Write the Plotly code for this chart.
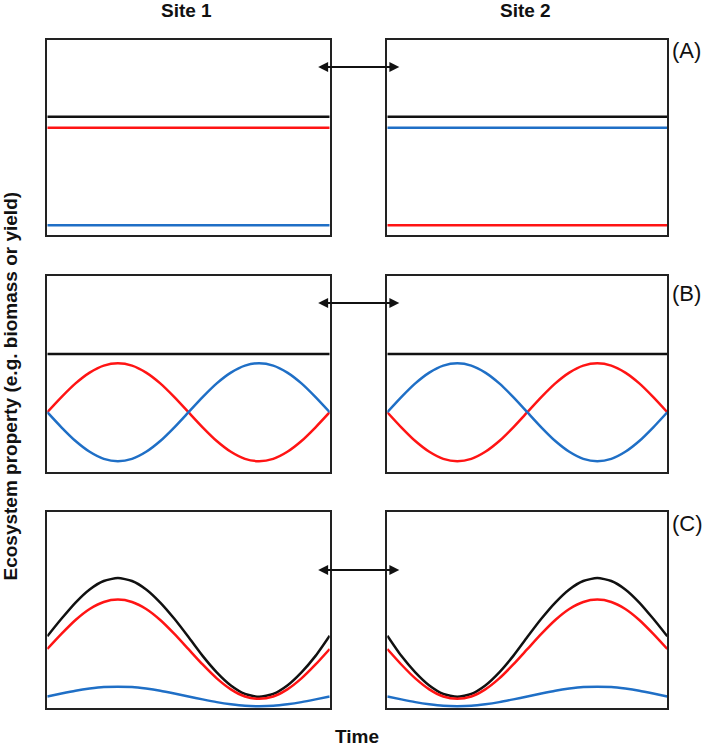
import plotly.graph_objects as go

# ---------------- data ----------------
time_pts = [0.0, 0.05, 0.10, 0.15, 0.20, 0.25, 0.30, 0.35, 0.40, 0.45, 0.50,
            0.55, 0.60, 0.65, 0.70, 0.75, 0.80, 0.85, 0.90, 0.95, 1.0]

# Row A: constant levels
a_site1_black = 0.604
a_site1_red = 0.548
a_site1_blue = 0.047
a_site2_black = 0.604
a_site2_red = 0.047
a_site2_blue = 0.548

# Row B
b_black = 0.602
b_site1_red = [0.305, 0.382, 0.452, 0.507, 0.543, 0.555, 0.543, 0.507, 0.452, 0.382, 0.305,
               0.228, 0.158, 0.103, 0.067, 0.055, 0.067, 0.103, 0.158, 0.228, 0.305]
b_site1_blue = [0.305, 0.228, 0.158, 0.103, 0.067, 0.055, 0.067, 0.103, 0.158, 0.228, 0.305,
                0.382, 0.452, 0.507, 0.543, 0.555, 0.543, 0.507, 0.452, 0.382, 0.305]
b_site2_red = b_site1_blue
b_site2_blue = b_site1_red

# Row C
c_site1_black = [0.366, 0.455, 0.538, 0.605, 0.648, 0.663, 0.648, 0.605, 0.538, 0.455, 0.362,
                 0.266, 0.182, 0.115, 0.072, 0.057, 0.072, 0.115, 0.182, 0.266, 0.369]
c_site1_red = [0.301, 0.378, 0.449, 0.505, 0.541, 0.553, 0.541, 0.505, 0.449, 0.378, 0.300,
               0.222, 0.151, 0.095, 0.059, 0.047, 0.059, 0.095, 0.151, 0.222, 0.301]
c_site1_blue = [0.059, 0.074, 0.088, 0.099, 0.107, 0.109, 0.107, 0.099, 0.088, 0.074, 0.059,
                0.044, 0.030, 0.019, 0.011, 0.009, 0.011, 0.019, 0.030, 0.044, 0.059]
c_site2_black = c_site1_black[::-1]
c_site2_red = c_site1_red[::-1]
c_site2_blue = c_site1_blue[::-1]

site_titles = ["Site 1", "Site 2"]
row_labels = ["(A)", "(B)", "(C)"]
x_title = "Time"
y_title = "Ecosystem property (e.g. biomass or yield)"

# ---------------- styling ----------------
W, H = 709, 748
BLACK = "#111111"
RED = "#ff1414"
BLUE = "#1f6fc6"
LW = 2.5
FONT = "Liberation Sans, Arial, Helvetica, sans-serif"

def px_x(p):
    return p / W

def px_y(p):
    return 1 - p / H

col_dom = [[px_x(47.3), px_x(329.7)], [px_x(387.3), px_x(667.3)]]
row_dom = [[px_y(234.5), px_y(39.5)], [px_y(472), px_y(276)], [px_y(708), px_y(512)]]

fig = go.Figure()

series = [
    # row A
    [[([0, 1], [a_site1_black] * 2, BLACK), ([0, 1], [a_site1_red] * 2, RED), ([0, 1], [a_site1_blue] * 2, BLUE)],
     [([0, 1], [a_site2_black] * 2, BLACK), ([0, 1], [a_site2_blue] * 2, BLUE), ([0, 1], [a_site2_red] * 2, RED)]],
    # row B
    [[([0, 1], [b_black] * 2, BLACK), (time_pts, b_site1_red, RED), (time_pts, b_site1_blue, BLUE)],
     [([0, 1], [b_black] * 2, BLACK), (time_pts, b_site2_red, RED), (time_pts, b_site2_blue, BLUE)]],
    # row C
    [[(time_pts, c_site1_black, BLACK), (time_pts, c_site1_red, RED), (time_pts, c_site1_blue, BLUE)],
     [(time_pts, c_site2_black, BLACK), (time_pts, c_site2_red, RED), (time_pts, c_site2_blue, BLUE)]],
]

axis_style = dict(showline=True, mirror=True, linecolor="#222222", linewidth=2,
                  showticklabels=False, ticks="", showgrid=False, zeroline=False,
                  range=[0, 1], fixedrange=True)

idx = 0
for r in range(3):
    for c in range(2):
        idx += 1
        xa = "x" if idx == 1 else f"x{idx}"
        ya = "y" if idx == 1 else f"y{idx}"
        for xs, ys, col in series[r][c]:
            fig.add_trace(go.Scatter(x=xs, y=ys, mode="lines", xaxis=xa, yaxis=ya,
                                     line=dict(color=col, width=LW, shape="spline", smoothing=0.6),
                                     showlegend=False, hoverinfo="skip"))
        layout_x = "xaxis" if idx == 1 else f"xaxis{idx}"
        layout_y = "yaxis" if idx == 1 else f"yaxis{idx}"
        fig.layout[layout_x] = dict(domain=col_dom[c], anchor=ya, **axis_style)
        fig.layout[layout_y] = dict(domain=row_dom[r], anchor=xa, **axis_style)

annotations = []
# site titles
for t, cx in zip(site_titles, [187, 525]):
    annotations.append(dict(text=f"<b>{t}</b>", x=px_x(cx), y=px_y(11), xref="paper", yref="paper",
                            showarrow=False, xanchor="center", yanchor="middle",
                            font=dict(family=FONT, size=19, color="#111111")))
# row labels
for lab, cy in zip(row_labels, [50, 293, 523]):
    annotations.append(dict(text=lab, x=px_x(670), y=px_y(cy), xref="paper", yref="paper",
                            showarrow=False, xanchor="left", yanchor="middle",
                            font=dict(family=FONT, size=22, color="#111111")))
# double-headed arrows
for ay_px in [67, 303, 570]:
    annotations.append(dict(text="", x=px_x(399.3), y=px_y(ay_px), xref="paper", yref="paper",
                            ax=-82.6, ay=0, axref="pixel", ayref="pixel",
                            showarrow=True, arrowhead=2, startarrowhead=2, arrowside="end+start",
                            arrowsize=1.1, startarrowsize=1.1, arrowwidth=1.8, arrowcolor="#111111",
                            standoff=0, startstandoff=0))
# axis titles
annotations.append(dict(text=f"<b>{x_title}</b>", x=px_x(357.3), y=px_y(736), xref="paper", yref="paper",
                        showarrow=False, xanchor="center", yanchor="middle",
                        font=dict(family=FONT, size=19, color="#111111")))
annotations.append(dict(text=f"<b>{y_title}</b>", x=px_x(10.5), y=px_y(386), xref="paper", yref="paper",
                        showarrow=False, xanchor="center", yanchor="middle", textangle=-90,
                        font=dict(family=FONT, size=19, color="#111111")))

fig.update_layout(width=W, height=H, margin=dict(l=0, r=0, t=0, b=0),
                  paper_bgcolor="white", plot_bgcolor="white",
                  annotations=annotations, showlegend=False)

fig.write_html("out.html", config={"displayModeBar": False},
               post_script="document.body.style.margin='0';document.body.style.padding='0';")
